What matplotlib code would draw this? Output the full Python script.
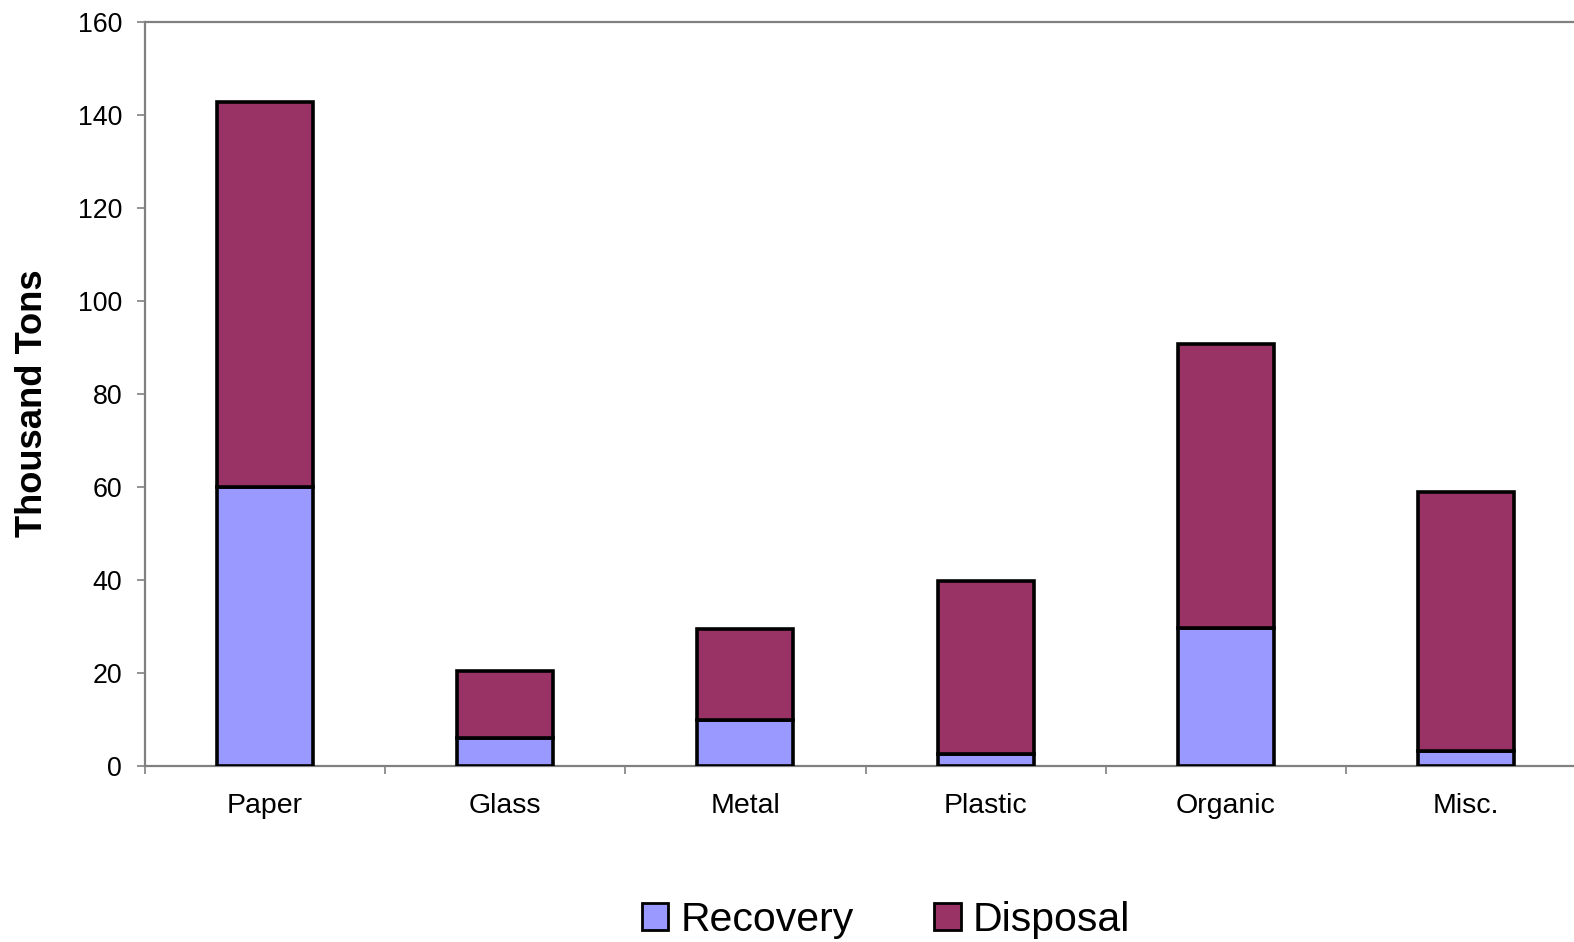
import numpy as np
import matplotlib.pyplot as plt

categories = ['Paper', 'Glass', 'Metal', 'Plastic', 'Organic', 'Misc.']
recovery = [60.0, 6.0, 9.8, 2.6, 29.5, 3.2]
disposal = [82.6, 14.3, 19.5, 37.2, 61.2, 55.7]

plt.rcParams['font.family'] = ['Liberation Sans', 'DejaVu Sans']

fig = plt.figure(figsize=(15.74, 9.42), dpi=100)
ax = fig.add_axes([145 / 1574, 1 - 765.7 / 942, 1441 / 1574, 744.2 / 942])

x = np.arange(len(categories))
w = 0.4
ax.bar(x, recovery, w, color='#9999FF', edgecolor='black', linewidth=2.6,
       label='Recovery', zorder=3)
ax.bar(x, disposal, w, bottom=recovery, color='#993366', edgecolor='black',
       linewidth=2.6, label='Disposal', zorder=3)

ax.set_xlim(-0.5, len(categories) - 0.5)
ax.set_ylim(0, 160)
ax.set_yticks(np.arange(0, 161, 20))
ax.set_xticks(x)
ax.set_xticklabels(categories)
ax.set_xticks(np.arange(-0.5, len(categories)), minor=True)

grey = '#808080'
for side in ['left', 'top', 'bottom']:
    ax.spines[side].set_color(grey)
    ax.spines[side].set_linewidth(1.6)
ax.spines['right'].set_visible(False)

ax.tick_params(axis='y', length=6, width=1.2, color=grey, labelsize=19.3, pad=10.5)
ax.tick_params(axis='x', which='major', length=0, labelsize=20.5, pad=19.5)
ax.tick_params(axis='x', which='minor', length=6, width=1.2, color=grey)

fig.text(33 / 1574, 1 - 403 / 942, 'Thousand Tons', rotation=90, ha='center',
         va='center', fontsize=26.2, fontweight='bold')

leg = fig.legend(loc='center', bbox_to_anchor=(886 / 1574, 1 - 920 / 942), ncol=2,
                 fontsize=29.5, frameon=False, handlelength=0.65, handleheight=0.65,
                 handletextpad=0.3, columnspacing=1.95, borderpad=0)
for h in leg.legend_handles:
    h.set_linewidth(2.0)

fig.savefig('out.png', dpi=100)
